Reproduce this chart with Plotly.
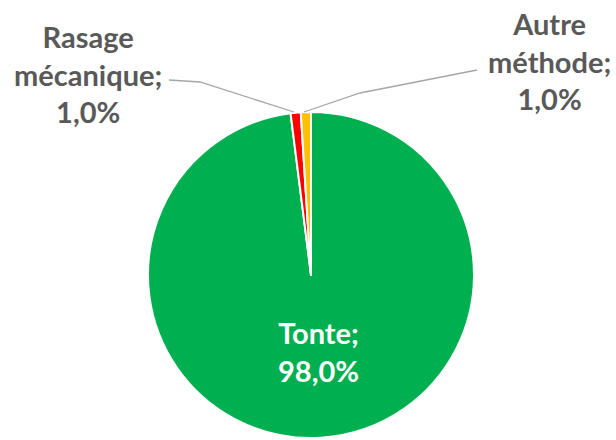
import plotly.graph_objects as go

W, H = 616, 440

# Data
categories = ["Tonte", "Rasage mécanique", "Autre méthode"]
values = [98.0, 1.0, 1.0]
colors = ["#00B050", "#FF0000", "#FFC000"]
label_lines = [["Tonte;"], ["Rasage", "mécanique;"], ["Autre", "méthode;"]]

def px(x):
    return x / W

def py(y):
    return 1 - y / H

cx, cy, r = 311, 275, 163

fig = go.Figure(go.Pie(
    labels=categories,
    values=values,
    sort=False,
    direction="clockwise",
    rotation=0,
    marker=dict(colors=colors, line=dict(color="white", width=2)),
    textinfo="none",
    hoverinfo="label+percent",
    showlegend=False,
    domain=dict(x=[px(cx - r), px(cx + r)], y=[py(cy + r), py(cy - r)]),
))

def fmt(v):
    return f"{v:.1f}".replace(".", ",") + "%"

FONT = "Lato, 'Open Sans', sans-serif"
label_pos = [(318, 351, "white"), (88, 74, "#595959"), (549, 61, "#595959")]
for lines, v, (x, y, col) in zip(label_lines, values, label_pos):
    txt = "<br>".join(lines + [fmt(v)])
    fig.add_annotation(
        x=px(x), y=py(y), xref="paper", yref="paper",
        text="<b>" + txt + "</b>", showarrow=False,
        xanchor="center", yanchor="middle", align="center",
        font=dict(family=FONT, size=29, color=col),
    )

def path(points):
    return "M " + " L ".join(f"{px(a)},{py(b)}" for a, b in points)

leader_lines = [
    [(169, 80), (200, 82), (294, 112)],
    [(304, 112), (360, 93), (477, 70)],
]
for pts in leader_lines:
    fig.add_shape(type="path", path=path(pts), xref="paper", yref="paper",
                  line=dict(color="#A6A6A6", width=1.3))

fig.update_layout(
    width=W, height=H,
    margin=dict(l=0, r=0, t=0, b=0),
    paper_bgcolor="white", plot_bgcolor="white",
)

fig.write_html("out.html", config={"displayModeBar": False},
               post_script="document.body.style.margin='0';")
